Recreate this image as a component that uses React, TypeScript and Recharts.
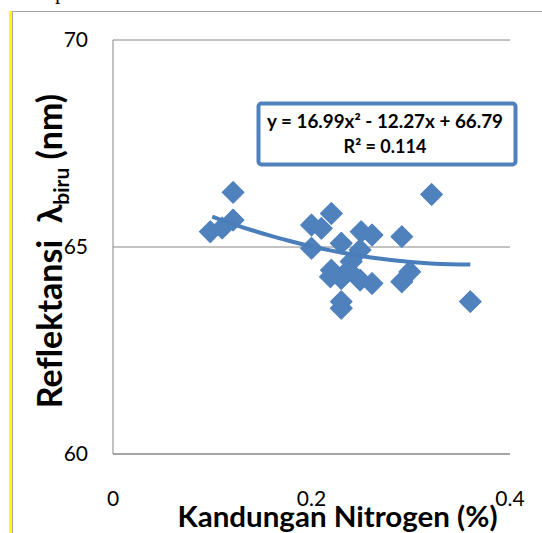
import React from 'react';
import { ComposedChart, Scatter, XAxis, YAxis, CartesianGrid, Label } from 'recharts';

// Nitrogen content (%) and blue-band reflectance (nm) per sample
const nitrogen = [
  0.098, 0.11, 0.121, 0.121, 0.2, 0.21, 0.22, 0.2, 0.23, 0.25, 0.261, 0.291, 0.249,
  0.24, 0.22, 0.219, 0.23, 0.237, 0.249, 0.261, 0.291, 0.299, 0.23, 0.23, 0.321, 0.36,
];
const reflectance = [
  65.37, 65.46, 65.65, 66.32, 65.53, 65.45, 65.81, 64.97, 65.09, 65.37, 65.29, 65.25, 64.93,
  64.65, 64.44, 64.28, 64.24, 64.44, 64.2, 64.12, 64.16, 64.4, 63.68, 63.52, 66.27, 63.68,
];

const xTicks = [0, 0.2, 0.4];
const yTicks = [60, 65, 70];

// Polynomial trendline y = a·x² + b·x + c, drawn over the span of the data
const trendCoef = [16.99, -12.27, 66.79];
const trendRange = [0.1, 0.36];
const equationLines = ['y = 16.99x² - 12.27x + 66.79', 'R² = 0.114'];

const points = nitrogen.map((x, i) => ({ x, y: reflectance[i] }));
const trendSteps = 26;
const trend = Array.from({ length: trendSteps + 1 }, (_, i) => {
  const x = trendRange[0] + ((trendRange[1] - trendRange[0]) * i) / trendSteps;
  return { x, y: trendCoef[0] * x * x + trendCoef[1] * x + trendCoef[2] };
});

const FONT = 'Lato, "Open Sans", sans-serif';
const BLUE = '#4F81BD';
const GRID = '#868686';
const NO_LIGATURES = { fontVariantLigatures: 'none' as const };

const Diamond = (props: any) => {
  const { cx, cy } = props;
  const r = 10.8;
  return (
    <path
      d={`M${cx},${cy - r}L${cx + r},${cy}L${cx},${cy + r}L${cx - r},${cy}Z`}
      fill={BLUE}
      stroke={BLUE}
      strokeWidth={1.2}
      strokeLinejoin="round"
    />
  );
};

const NoDot = () => <g />;

const XTick = (props: any) => {
  const { x, y, payload } = props;
  return (
    <text x={x} y={y + 50} textAnchor="middle" fontFamily={FONT} fontSize={21} fill="#000">
      {payload.value}
    </text>
  );
};

const YTick = (props: any) => {
  const { x, y, payload } = props;
  return (
    <text x={x - 23} y={y + 7} textAnchor="end" fontFamily={FONT} fontSize={21} fill="#000">
      {payload.value}
    </text>
  );
};

const XTitle = (props: any) => {
  const { viewBox } = props;
  const cx = viewBox.x + viewBox.width / 2 + 26;
  return (
    <text
      x={cx}
      y={viewBox.y + 73}
      textAnchor="middle"
      fontFamily={FONT}
      fontSize={29}
      fontWeight={700}
      fill="#000"
      textLength={320}
      lengthAdjust="spacingAndGlyphs"
      style={NO_LIGATURES}
    >
      Kandungan Nitrogen (%)
    </text>
  );
};

const YTitle = (props: any) => {
  const { viewBox } = props;
  const cy = viewBox.y + viewBox.height / 2 + 4;
  return (
    <text
      transform={`translate(62,${cy}) rotate(-90)`}
      textAnchor="middle"
      fontFamily={FONT}
      fontSize={34}
      fontWeight={700}
      fill="#000"
      style={NO_LIGATURES}
    >
      Reflektansi{'\u00a0\u00a0'}λ
      <tspan fontSize={21} dy={7}>biru</tspan>
      <tspan dy={-7}> (nm)</tspan>
    </text>
  );
};

export default function App() {
  return (
    <div style={{ position: 'absolute', left: 0, top: 0, width: 542, height: 533, background: '#fff', overflow: 'hidden' }}>
      <svg width={542} height={533} style={{ position: 'absolute', left: 0, top: 0 }}>
        <text x={55} y={-1} fontFamily='"Liberation Serif", serif' fontSize={22} fill="#000">p</text>
        <rect x={9} y={11} width={3} height={522} fill="#FFFF00" />
        <rect x={12} y={11} width={1} height={522} fill="#A6A6A6" />
        <rect x={12} y={11} width={530} height={1} fill="#A6A6A6" />
      </svg>
      <div style={{ position: 'absolute', left: 0, top: 0 }}>
        <ComposedChart width={542} height={533} margin={{ top: 40, right: 32, bottom: 0, left: 0 }}>
          <CartesianGrid vertical={false} stroke={GRID} strokeWidth={1} />
          <XAxis
            type="number"
            dataKey="x"
            domain={[0, 0.4]}
            ticks={xTicks}
            height={79}
            tick={<XTick />}
            tickLine={false}
            tickSize={0}
            axisLine={{ stroke: GRID, strokeWidth: 1 }}
            allowDataOverflow
          >
            <Label content={<XTitle />} />
          </XAxis>
          <YAxis
            type="number"
            dataKey="y"
            domain={[60, 70]}
            ticks={yTicks}
            width={113}
            tick={<YTick />}
            tickLine={false}
            tickSize={0}
            axisLine={{ stroke: GRID, strokeWidth: 1 }}
            allowDataOverflow
          >
            <Label content={<YTitle />} />
          </YAxis>
          <Scatter data={points} fill={BLUE} shape={<Diamond />} isAnimationActive={false} />
          <Scatter
            data={trend}
            fill="#4A7EBB"
            shape={<NoDot />}
            line={{ stroke: '#4A7EBB', strokeWidth: 4 }}
            lineType="joint"
            isAnimationActive={false}
          />
        </ComposedChart>
      </div>
      <svg width={542} height={533} style={{ position: 'absolute', left: 0, top: 0, pointerEvents: 'none' }}>
        <rect x={258.5} y={103.5} width={257} height={61} rx={3} fill="#fff" stroke={BLUE} strokeWidth={4} />
        <text
          x={385}
          y={128}
          textAnchor="middle"
          fontFamily={FONT}
          fontSize={18}
          fontWeight={700}
          fill="#000"
          textLength={236}
          lengthAdjust="spacingAndGlyphs"
        >
          {equationLines[0]}
        </text>
        <text x={385} y={153} textAnchor="middle" fontFamily={FONT} fontSize={18} fontWeight={700} fill="#000">
          {equationLines[1]}
        </text>
      </svg>
    </div>
  );
}
